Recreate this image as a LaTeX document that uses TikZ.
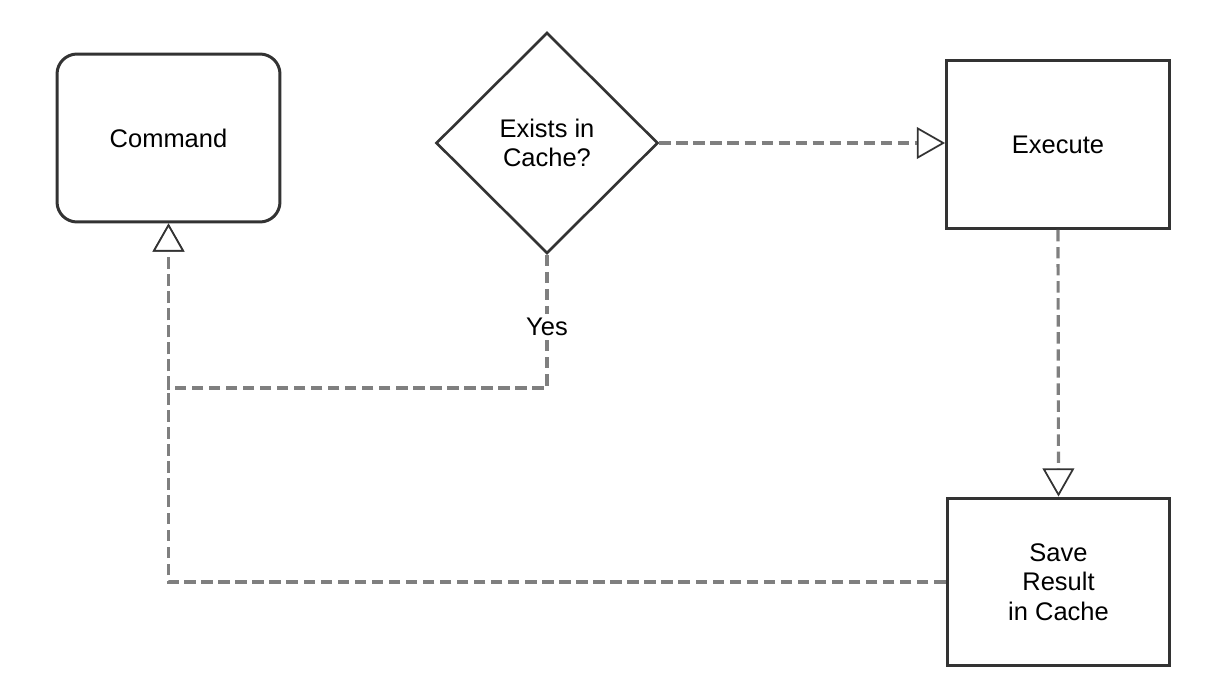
\documentclass[tikz,border=0pt]{standalone}
\usepackage{fontspec}
\setmainfont{Liberation Sans}
\usetikzlibrary{shapes.geometric,arrows.meta}

\definecolor{boxline}{HTML}{333333}
\definecolor{flowline}{HTML}{7F7F7F}

\tikzset{
	stepbox/.style={draw=boxline, line width=1.7pt, fill=white, minimum width=4.46cm, minimum height=3.36cm, align=center, inner sep=0pt},
	startbox/.style={stepbox, rounded corners=0.4cm},
	decision/.style={diamond, draw=boxline, line width=1.5pt, fill=white, minimum width=4.44cm, minimum height=4.42cm, aspect=1, align=center, inner sep=0pt},
	flow/.style={draw=flowline, line width=1.8pt, dash pattern=on 6.5pt off 3.2pt, -{Triangle[fill=white, color=boxline, line width=1pt, length=16pt, width=18pt]}},
	flowlabel/.style={fill=white, inner sep=2pt}
}

\begin{document}
\begin{tikzpicture}[line cap=butt, line join=miter, x=0.02cm, y=0.02cm, font=\fontsize{14.5}{16.8}\selectfont]
	\useasboundingbox (0,0) rectangle (1214,698);

	% Nodes
	\node[startbox] (command) at (168.5,560) {Command};
	\node[decision] (cached) at (547,555) {Exists in\\Cache?};
	\node[stepbox] (execute) at (1058,553.5) {Execute};
	\node[stepbox] (save) at (1058.5,116) {Save\\Result\\in Cache};
	\coordinate (join) at (168.5,310);

	% Connectors
	\draw[flow] (cached.east) -- (cached.east -| execute.west);
	\draw[flow] (execute.south) -- (save.north);
	\draw[flow] (save.west) -| (command.south);
	\draw[flow] (cached.south) |- node[flowlabel, pos=0.27] {Yes} (join) -- (command.south);
\end{tikzpicture}
\end{document}
